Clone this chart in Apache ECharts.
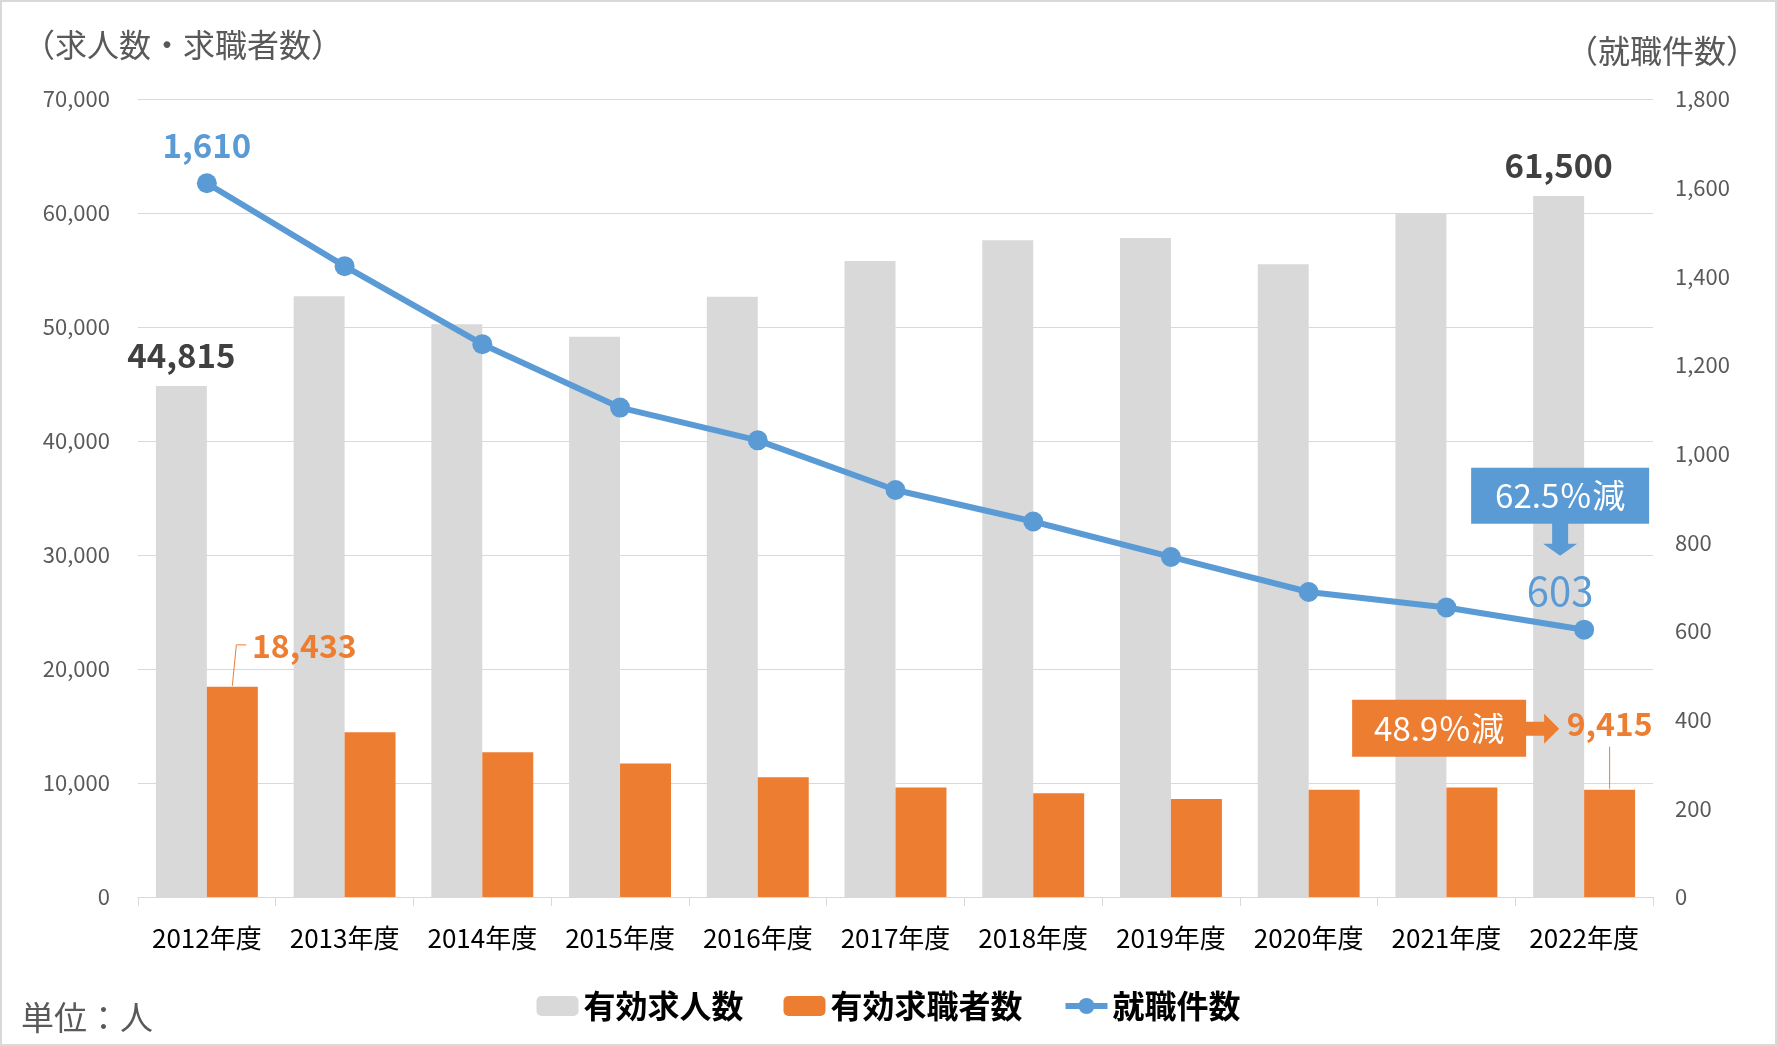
<!DOCTYPE html>
<html><head><meta charset="utf-8">
<script src="https://cdn.jsdelivr.net/npm/echarts@6/dist/echarts.min.js"></script>
<style>html,body{margin:0;padding:0;background:#fff}#c{width:1777px;height:1046px;box-sizing:border-box;border:2px solid #d9d9d9}</style>
</head><body><div id="c"></div>
<script>
const categories = ['2012年度','2013年度','2014年度','2015年度','2016年度','2017年度','2018年度','2019年度','2020年度','2021年度','2022年度'];
const jobOpenings = [44815, 52700, 50250, 49150, 52650, 55800, 57600, 57800, 55500, 60000, 61500];
const jobSeekers  = [18433, 14450, 12700, 11700, 10500, 9600, 9100, 8600, 9400, 9600, 9415];
const placements  = [1610, 1423, 1247, 1104, 1030, 918, 847, 767, 688, 653, 603];
const seriesNames = ['有効求人数','有効求職者数','就職件数'];
const leftAxisName = '（求人数・求職者数）';
const rightAxisName = '（就職件数）';
const unitText = '単位：人';
const calloutPlacements = '62.5％減';
const calloutSeekers = '48.9％減';
const leftMax = 70000, leftStep = 10000;
const rightMax = 1800, rightStep = 200;

const ff = '"Noto Sans CJK JP","Noto Sans",sans-serif';
const BLUE = '#5b9bd5', ORANGE = '#ed7d31', GRAY = '#d9d9d9';
const last = categories.length - 1;
const fmt = v => Number(v).toLocaleString('en-US');

const chart = echarts.init(document.getElementById('c'));

const openData = jobOpenings.map((v, i) => (i === 0 || i === last) ? {
  value: v, label: {show: true, position: 'top', distance: 14, formatter: fmt(v), fontSize: 33, fontWeight: 'bold', color: '#404040', fontFamily: ff}
} : v);
const seekData = jobSeekers.map((v, i) => {
  if (i === 0) return {value: v, label: {show: true, position: 'top', offset: [72, -20], formatter: fmt(v), fontSize: 32, fontWeight: 'bold', color: ORANGE, fontFamily: ff}};
  if (i === last) return {value: v, label: {show: true, position: 'top', offset: [0, -45], formatter: fmt(v), fontSize: 32, fontWeight: 'bold', color: ORANGE, fontFamily: ff}};
  return v;
});
const placeData = placements.map((v, i) => {
  if (i === 0) return {value: v, label: {show: true, position: 'top', distance: 11, formatter: fmt(v), fontSize: 33, fontWeight: 'bold', color: BLUE, fontFamily: ff}};
  if (i === last) return {value: v, label: {show: true, position: 'top', distance: 9, offset: [-24, 0], formatter: fmt(v), fontSize: 40, fontWeight: 'normal', color: BLUE, fontFamily: ff}};
  return v;
});

const option = {
  animation: false,
  backgroundColor: '#fff',
  textStyle: {fontFamily: ff},
  title: [
    {text: leftAxisName, left: 16, top: 22, textStyle: {fontSize: 32, fontWeight: 'normal', color: '#595959', fontFamily: ff}},
    {text: rightAxisName, right: 12, top: 28, textStyle: {fontSize: 32, fontWeight: 'normal', color: '#595959', fontFamily: ff}},
    {text: unitText, left: 14, top: 994, textStyle: {fontSize: 33, fontWeight: 'normal', color: '#595959', fontFamily: ff}}
  ],
  grid: {left: 136, right: 122, top: 97, bottom: 147},
  legend: {
    left: 'center', top: 983, itemGap: 40, itemWidth: 42, itemHeight: 20,
    textStyle: {fontSize: 32, fontWeight: 'bold', color: '#000', fontFamily: ff},
    data: [seriesNames[0], seriesNames[1], {name: seriesNames[2], lineStyle: {width: 6}}]
  },
  xAxis: {
    type: 'category', data: categories,
    axisLine: {lineStyle: {color: GRAY, width: 1}},
    axisTick: {show: true, length: 9, interval: 0, lineStyle: {color: GRAY}},
    axisLabel: {fontSize: 26, color: '#000', margin: 28, interval: 0, fontFamily: ff}
  },
  yAxis: [
    {type: 'value', min: 0, max: leftMax, interval: leftStep,
     axisLine: {show: false}, axisTick: {show: false},
     splitLine: {lineStyle: {color: GRAY, width: 1}},
     axisLabel: {fontSize: 22, color: '#595959', margin: 28, formatter: fmt, fontFamily: ff}},
    {type: 'value', min: 0, max: rightMax, interval: rightStep, position: 'right',
     axisLine: {show: false}, axisTick: {show: false}, splitLine: {show: false},
     axisLabel: {fontSize: 22, color: '#595959', margin: 22, formatter: fmt, fontFamily: ff}}
  ],
  series: [
    {name: seriesNames[0], type: 'bar', yAxisIndex: 0, barGap: '0%', barCategoryGap: '26%', itemStyle: {color: GRAY}, data: openData},
    {name: seriesNames[1], type: 'bar', yAxisIndex: 0, barGap: '0%', barCategoryGap: '26%', itemStyle: {color: ORANGE}, data: seekData},
    {name: seriesNames[2], type: 'line', yAxisIndex: 1, z: 10, symbol: 'circle', symbolSize: 20,
     itemStyle: {color: BLUE}, lineStyle: {color: BLUE, width: 6}, data: placeData}
  ]
};
chart.setOption(option);

// annotations positioned from the library's own scales
const p0 = chart.convertToPixel({xAxisIndex: 0, yAxisIndex: 0}, [0, jobSeekers[0]]);
const p1 = chart.convertToPixel({xAxisIndex: 0, yAxisIndex: 0}, [1, 0]);
const band = p1[0] - p0[0];
const barW = band * (1 - 0.26) / 2;
const pl = chart.convertToPixel({xAxisIndex: 0, yAxisIndex: 1}, [last, placements[last]]);
const ps = chart.convertToPixel({xAxisIndex: 0, yAxisIndex: 0}, [last, jobSeekers[last]]);
const cx = pl[0], py = pl[1], by = ps[1], bx = cx + barW / 2;
const bx0 = p0[0] + barW / 2, by0 = p0[1];

const ax = cx - 24;
const graphics = [
  {type: 'rect', z: 100, shape: {x: ax - 89, y: py - 162, width: 178, height: 56}, style: {fill: BLUE}},
  {type: 'text', z: 101, x: ax, y: py - 134, style: {text: calloutPlacements, fill: '#fff', fontSize: 33, fontFamily: ff, align: 'center', verticalAlign: 'middle'}},
  {type: 'polygon', z: 100, shape: {points: [[ax - 8, py - 107], [ax + 8, py - 107], [ax + 8, py - 86], [ax + 17, py - 86], [ax, py - 74], [ax - 17, py - 86], [ax - 8, py - 86]]}, style: {fill: BLUE}},
  {type: 'rect', z: 100, shape: {x: cx - 232, y: by - 90, width: 174, height: 57}, style: {fill: ORANGE}},
  {type: 'text', z: 101, x: cx - 145, y: by - 61, style: {text: calloutSeekers, fill: '#fff', fontSize: 33, fontFamily: ff, align: 'center', verticalAlign: 'middle'}},
  {type: 'polygon', z: 100, shape: {points: [[cx - 59, by - 68], [cx - 40, by - 68], [cx - 40, by - 76], [cx - 25, by - 61], [cx - 40, by - 46], [cx - 40, by - 54], [cx - 59, by - 54]]}, style: {fill: ORANGE}},
  {type: 'line', z: 100, shape: {x1: bx, y1: by - 43, x2: bx, y2: by - 1}, style: {stroke: ORANGE, lineWidth: 1}},
  {type: 'polyline', z: 100, shape: {points: [[bx0, by0 - 1], [bx0 + 4, by0 - 42], [bx0 + 14, by0 - 42]]}, style: {stroke: ORANGE, lineWidth: 1, fill: null}}
];
chart.setOption({graphic: graphics});
</script>
</body></html>
